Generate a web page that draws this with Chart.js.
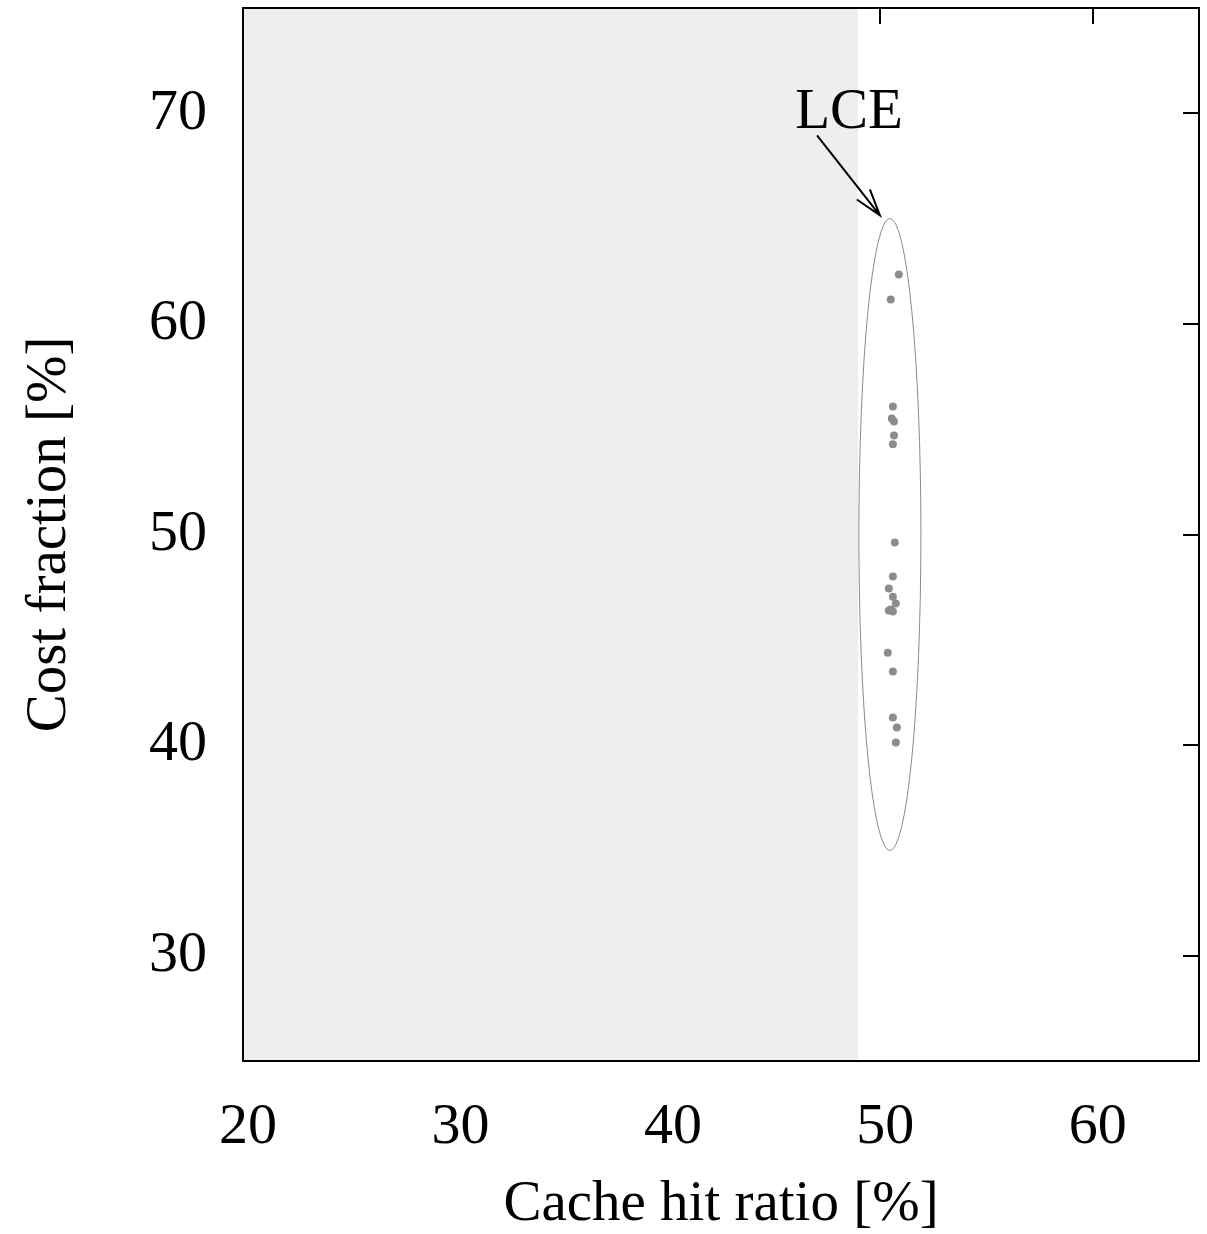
<!DOCTYPE html>
<html><head><meta charset="utf-8">
<script src="https://cdn.jsdelivr.net/npm/chart.js@4/dist/chart.umd.min.js"></script>
<style>html,body{margin:0;padding:0;background:#fff}#wrap{width:1207px;height:1234px}</style>
</head><body><div id="wrap"><canvas id="c" width="1207" height="1234"></canvas></div>
<script>
// Data
const hitRatio = [50.87,50.49,50.59,50.54,50.64,50.64,50.59,50.68,50.59,50.40,50.59,50.73,50.49,50.59,50.40,50.35,50.59,50.59,50.78,50.73];
const costFraction = [62.35,61.16,56.08,55.51,55.37,54.70,54.28,49.62,48.00,47.43,47.05,46.72,46.44,46.34,46.39,44.39,43.49,41.31,40.83,40.12];
const xTicks = [20,30,40,50,60];
const yTicks = [30,40,50,60,70];
const shadeMaxX = 48.95;
const ellipseCenter = [50.45, 50.0];
const ellipseRadii = [1.46, 15.0];
const labelText = 'LCE';
const labelPos = [48.53, 70.0];
const arrowFrom = [47.02, 68.95];
const arrowTo = [49.98, 65.15];

const FONT = '"Liberation Serif","DejaVu Serif",serif';

const deco = {
  id: 'deco',
  beforeDatasetsDraw(chart) {
    const {ctx, chartArea: a, scales: {x, y}} = chart;
    ctx.save();
    ctx.fillStyle = '#eeeeee';
    const xr = x.getPixelForValue(shadeMaxX);
    ctx.fillRect(a.left, a.top, xr - a.left, a.bottom - a.top);
    const cx = x.getPixelForValue(ellipseCenter[0]);
    const cy = y.getPixelForValue(ellipseCenter[1]);
    const rx = Math.abs(x.getPixelForValue(ellipseCenter[0] + ellipseRadii[0]) - cx);
    const ry = Math.abs(y.getPixelForValue(ellipseCenter[1] + ellipseRadii[1]) - cy);
    ctx.beginPath();
    ctx.ellipse(cx, cy, rx, ry, 0, 0, Math.PI * 2);
    ctx.strokeStyle = '#8a8a8a';
    ctx.lineWidth = 1;
    ctx.stroke();
    ctx.restore();
  },
  afterDraw(chart) {
    const {ctx, chartArea: a, scales: {x, y}} = chart;
    ctx.save();
    ctx.strokeStyle = '#000';
    ctx.lineWidth = 2;
    ctx.beginPath();
    xTicks.forEach(v => {
      if (v <= shadeMaxX) return;
      const px = Math.round(x.getPixelForValue(v));
      ctx.moveTo(px, a.top); ctx.lineTo(px, a.top + 16);
    });
    yTicks.forEach(v => {
      const py = Math.round(y.getPixelForValue(v));
      ctx.moveTo(a.right, py); ctx.lineTo(a.right - 16, py);
    });
    ctx.stroke();
    ctx.strokeRect(a.left, a.top, a.right - a.left, a.bottom - a.top);
    // arrow
    const x0 = x.getPixelForValue(arrowFrom[0]), y0 = y.getPixelForValue(arrowFrom[1]);
    const x1 = x.getPixelForValue(arrowTo[0]), y1 = y.getPixelForValue(arrowTo[1]);
    ctx.lineWidth = 2;
    ctx.beginPath();
    ctx.moveTo(x0, y0); ctx.lineTo(x1, y1);
    const ang = Math.atan2(y1 - y0, x1 - x0);
    const L = 28, sp = 0.3;
    ctx.moveTo(x1 - L * Math.cos(ang - sp), y1 - L * Math.sin(ang - sp));
    ctx.lineTo(x1, y1);
    ctx.lineTo(x1 - L * Math.cos(ang + sp), y1 - L * Math.sin(ang + sp));
    ctx.stroke();
    ctx.fillStyle = '#000';
    ctx.font = '57px ' + FONT;
    ctx.textAlign = 'center';
    ctx.textBaseline = 'middle';
    ctx.fillText(labelText, x.getPixelForValue(labelPos[0]), y.getPixelForValue(labelPos[1]));
    ctx.restore();
  }
};

new Chart(document.getElementById('c'), {
  type: 'scatter',
  data: {
    datasets: [{
      data: hitRatio.map((v, i) => ({x: v, y: costFraction[i]})),
      backgroundColor: '#8c8c8c',
      borderColor: '#8c8c8c',
      borderWidth: 0,
      pointRadius: 4,
      pointHoverRadius: 4
    }]
  },
  options: {
    responsive: false,
    animation: false,
    devicePixelRatio: 1,
    layout: {padding: {top: 8, right: 8, left: 0, bottom: 0}},
    plugins: {legend: {display: false}, tooltip: {enabled: false}},
    scales: {
      x: {
        type: 'linear', min: 20, max: 65,
        afterBuildTicks: s => { s.ticks = xTicks.map(v => ({value: v})); },
        afterFit: s => { s.height = 173; s.paddingLeft = 0; s.paddingRight = 0; },
        grid: {display: false, drawTicks: false},
        border: {display: false},
        ticks: {color: '#000', font: {family: FONT, size: 58}, padding: 32, maxRotation: 0, labelOffset: 5},
        title: {display: true, text: 'Cache hit ratio [%]', color: '#000', font: {family: FONT, size: 57, lineHeight: 1.0}, padding: {top: 32, bottom: 0}}
      },
      y: {
        type: 'linear', min: 25, max: 75,
        afterBuildTicks: s => { s.ticks = yTicks.map(v => ({value: v})); },
        afterFit: s => { s.width = 243; s.paddingTop = 0; s.paddingBottom = 0; },
        grid: {display: false, drawTicks: false},
        border: {display: false},
        ticks: {color: '#000', font: {family: FONT, size: 58}, padding: 36},
        title: {display: true, text: 'Cost fraction [%]', color: '#000', font: {family: FONT, size: 57}, padding: {top: 16, bottom: 0}}
      }
    }
  },
  plugins: [deco]
});
</script>
</body></html>
